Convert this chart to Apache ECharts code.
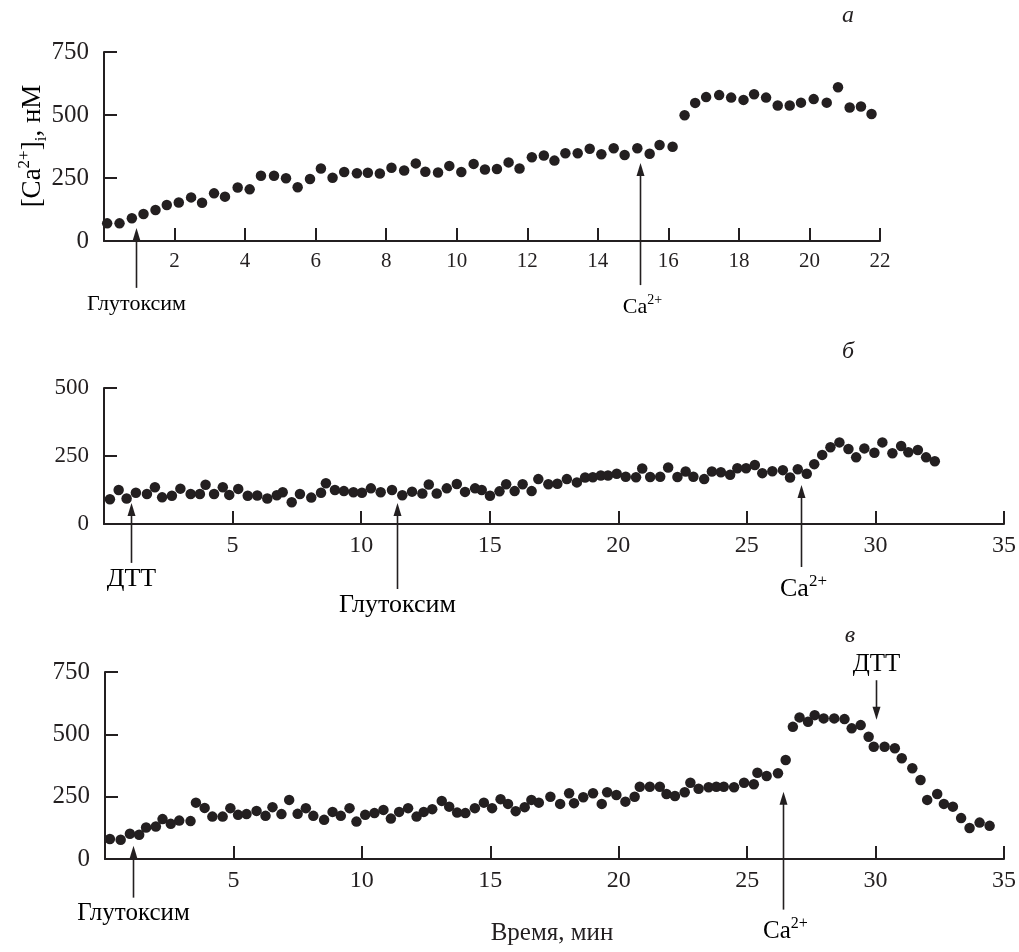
<!DOCTYPE html>
<html>
<head>
<meta charset="utf-8">
<script src="https://cdn.jsdelivr.net/npm/echarts@6/dist/echarts.min.js"></script>
<style>
  html, body { margin: 0; padding: 0; background: #fff; }
  #chart { width: 1019px; height: 952px; }
</style>
</head>
<body>
<div id="chart"></div>
<script>
// panel a: glutoxim, then Ca2+
const timeA = [0.09, 0.44, 0.79, 1.12, 1.46, 1.78, 2.12, 2.47, 2.78, 3.12, 3.43, 3.79, 4.13, 4.45, 4.82, 5.16, 5.49, 5.84, 6.15, 6.48, 6.81, 7.17, 7.48, 7.82, 8.15, 8.51, 8.84, 9.11, 9.47, 9.79, 10.13, 10.48, 10.80, 11.14, 11.47, 11.78, 12.13, 12.47, 12.77, 13.08, 13.43, 13.77, 14.10, 14.45, 14.76, 15.12, 15.47, 15.75, 16.12, 16.46, 16.76, 17.07, 17.44, 17.78, 18.13, 18.43, 18.77, 19.10, 19.44, 19.76, 20.12, 20.49, 20.81, 21.14, 21.46, 21.76];
const concA = [70, 70, 90, 107, 123, 143, 153, 173, 152, 189, 176, 212, 205, 259, 259, 249, 213, 246, 288, 251, 274, 269, 271, 268, 291, 280, 308, 275, 272, 298, 274, 306, 284, 286, 312, 288, 332, 339, 319, 348, 348, 366, 344, 368, 341, 368, 346, 381, 374, 499, 548, 571, 579, 569, 560, 582, 569, 538, 538, 549, 563, 549, 610, 530, 534, 504];

// panel b: DTT, glutoxim, Ca2+
const timeB = [0.23, 0.57, 0.88, 1.24, 1.67, 1.98, 2.26, 2.64, 2.97, 3.37, 3.73, 3.95, 4.28, 4.62, 4.87, 5.22, 5.59, 5.96, 6.35, 6.72, 6.95, 7.30, 7.62, 8.06, 8.44, 8.63, 8.98, 9.33, 9.70, 10.03, 10.38, 10.76, 11.20, 11.60, 11.98, 12.38, 12.63, 12.94, 13.33, 13.72, 14.04, 14.43, 14.69, 15.01, 15.38, 15.64, 15.97, 16.28, 16.63, 16.89, 17.28, 17.63, 18.00, 18.39, 18.71, 19.01, 19.32, 19.60, 19.94, 20.29, 20.69, 20.93, 21.24, 21.63, 21.94, 22.30, 22.62, 22.92, 23.34, 23.64, 23.99, 24.35, 24.63, 24.97, 25.31, 25.60, 25.99, 26.40, 26.68, 26.98, 27.33, 27.62, 27.93, 28.25, 28.60, 28.95, 29.25, 29.57, 29.96, 30.27, 30.66, 31.00, 31.28, 31.65, 31.97, 32.31];
const concB = [91, 125, 94, 115, 110, 135, 98, 104, 130, 110, 110, 144, 110, 135, 107, 129, 104, 105, 94, 106, 117, 80, 110, 97, 115, 150, 125, 121, 117, 115, 131, 117, 125, 106, 119, 112, 145, 112, 131, 147, 118, 131, 125, 104, 120, 146, 121, 146, 121, 165, 146, 148, 165, 153, 171, 172, 178, 178, 185, 174, 172, 204, 173, 174, 208, 173, 193, 174, 165, 193, 190, 181, 205, 205, 217, 187, 194, 198, 171, 201, 185, 220, 254, 282, 300, 276, 245, 278, 262, 300, 260, 287, 264, 272, 245, 231];

// panel c: glutoxim, Ca2+, DTT
const timeC = [0.19, 0.61, 0.97, 1.33, 1.60, 1.98, 2.24, 2.56, 2.89, 3.33, 3.54, 3.88, 4.18, 4.58, 4.88, 5.18, 5.51, 5.90, 6.25, 6.52, 6.87, 7.17, 7.50, 7.82, 8.11, 8.53, 8.86, 9.18, 9.52, 9.79, 10.13, 10.49, 10.84, 11.13, 11.45, 11.80, 12.13, 12.41, 12.74, 13.11, 13.40, 13.71, 14.03, 14.40, 14.75, 15.07, 15.40, 15.69, 15.99, 16.34, 16.60, 16.89, 17.34, 17.72, 18.07, 18.26, 18.62, 19.00, 19.34, 19.55, 19.91, 20.26, 20.62, 20.82, 21.21, 21.60, 21.86, 22.19, 22.57, 22.79, 23.11, 23.50, 23.80, 24.09, 24.49, 24.88, 25.26, 25.40, 25.76, 26.20, 26.50, 26.78, 27.04, 27.37, 27.63, 27.98, 28.39, 28.79, 29.07, 29.42, 29.73, 29.93, 30.35, 30.75, 31.02, 31.43, 31.75, 32.01, 32.40, 32.66, 33.01, 33.33, 33.66, 34.05, 34.44];
const concC = [80, 77, 101, 97, 126, 130, 160, 141, 154, 152, 226, 205, 170, 170, 204, 177, 180, 193, 173, 208, 180, 237, 181, 204, 173, 157, 189, 173, 204, 150, 177, 184, 197, 162, 189, 204, 170, 189, 200, 233, 210, 186, 184, 204, 226, 204, 240, 221, 192, 208, 237, 226, 250, 221, 264, 224, 248, 264, 221, 268, 257, 230, 250, 290, 290, 290, 261, 253, 268, 306, 282, 288, 290, 290, 288, 306, 300, 346, 333, 344, 397, 530, 568, 550, 577, 564, 564, 561, 524, 537, 490, 450, 450, 444, 404, 364, 317, 237, 261, 221, 210, 164, 124, 146, 133];

// arrows: time, tip value, tail value (nM), label
const arrowsA = [
  { t: 0.9, tip: 52, tail: -186, label: 'Глутоксим' },
  { t: 15.2, tip: 310, tail: -175, label: 'Ca' }
];
const arrowsB = [
  { t: 1.04, tip: 77, tail: -143, label: 'ДТТ' },
  { t: 11.38, tip: 77, tail: -239, label: 'Глутоксим' },
  { t: 27.1, tip: 143, tail: -158, label: 'Ca' }
];
const arrowsC = [
  { t: 1.1, tip: 53, tail: -155, label: 'Глутоксим' },
  { t: 26.4, tip: 270, tail: -203, label: 'Ca' },
  { t: 30.0, tip: 558, tail: 717, label: 'ДТТ' }
];

const ink = '#231f20';
const serif = '"Liberation Serif", "DejaVu Serif", serif';

const chart = echarts.init(document.getElementById('chart'));

function xAx(grid, max, step, size) {
  return {
    type: 'value', gridIndex: grid, min: 0, max: max, interval: step,
    axisLine: { lineStyle: { color: ink, width: 2 } },
    axisTick: { inside: true, length: 13, lineStyle: { color: ink, width: 2 } },
    axisLabel: { showMinLabel: false, color: ink, fontFamily: serif, fontSize: size, margin: 10 },
    splitLine: { show: false }
  };
}
function yAx(grid, max, size) {
  return {
    type: 'value', gridIndex: grid, min: 0, max: max, interval: 250,
    axisLine: { show: true, lineStyle: { color: ink, width: 2 } },
    axisTick: { show: true, inside: true, length: 13, lineStyle: { color: ink, width: 2 } },
    axisLabel: { color: ink, fontFamily: serif, fontSize: size, margin: 15 },
    splitLine: { show: false }
  };
}
function dots(i, xs, ys) {
  return {
    type: 'scatter', xAxisIndex: i, yAxisIndex: i,
    symbol: 'circle', symbolSize: 10.5,
    itemStyle: { color: ink, opacity: 1 },
    data: xs.map((x, k) => [x, ys[k]]),
    silent: true, animation: false
  };
}

chart.setOption({
  animation: false,
  grid: [
    { left: 104, top: 52, width: 776, height: 189 },
    { left: 104, top: 388, width: 900, height: 136 },
    { left: 105, top: 672, width: 899, height: 187 }
  ],
  xAxis: [xAx(0, 22, 2, 21), xAx(1, 35, 5, 24), xAx(2, 35, 5, 24)],
  yAxis: [yAx(0, 750, 25), yAx(1, 500, 23), yAx(2, 750, 25)],
  series: [dots(0, timeA, concA), dots(1, timeB, concB), dots(2, timeC, concC)]
});

const richText = (size) => ({
  n: { fontFamily: serif, fontSize: size, color: ink, lineHeight: size + 6 },
  s: { fontFamily: serif, fontSize: Math.round(size * 0.65), color: ink, verticalAlign: 'top' }
});

function arrowEls(grid, list, size) {
  const els = [];
  list.forEach(a => {
    const p1 = chart.convertToPixel({ gridIndex: grid }, [a.t, a.tip]);
    const p2 = chart.convertToPixel({ gridIndex: grid }, [a.t, a.tail]);
    const x = Math.round(p1[0]) + 0.5;
    const dir = p2[1] > p1[1] ? 1 : -1; // 1: arrow points up
    const headLen = 13;
    els.push({
      type: 'line', z: 20, silent: true,
      shape: { x1: x, y1: p2[1], x2: x, y2: p1[1] + dir * (headLen - 2) },
      style: { stroke: ink, lineWidth: 1.6 }
    });
    els.push({
      type: 'polygon', z: 21, silent: true,
      shape: { points: [[x, p1[1]], [x - 4, p1[1] + dir * headLen], [x + 4, p1[1] + dir * headLen]] },
      style: { fill: ink }
    });
    const isCa = a.label === 'Ca';
    els.push({
      type: 'text', z: 22, silent: true,
      x: x + (isCa ? 2 : 0),
      y: p2[1] + dir * (isCa ? 22 : 16),
      style: {
        text: isCa ? '{n|Ca}{s|2+}' : '{n|' + a.label + '}',
        rich: richText(size),
        align: 'center', verticalAlign: 'middle'
      }
    });
  });
  return els;
}

const letter = (txt, x, y) => ({
  type: 'text', x: x, y: y, silent: true,
  style: { text: txt, font: 'italic 24px ' + serif, fill: ink, align: 'center', verticalAlign: 'middle' }
});

chart.setOption({
  graphic: [
    ...arrowEls(0, arrowsA, 22),
    ...arrowEls(1, arrowsB, 26),
    ...arrowEls(2, arrowsC, 25),
    letter('а', 848, 16),
    letter('б', 848, 352),
    letter('в', 850, 636),
    {
      type: 'text', x: 33, y: 146, rotation: Math.PI / 2, silent: true,
      style: {
        text: '{n|[Ca}{s|2+}{n|]}{b|i}{n|, нМ}',
        rich: {
          n: { fontFamily: serif, fontSize: 27, color: ink, lineHeight: 34 },
          s: { fontFamily: serif, fontSize: 17, color: ink, verticalAlign: 'top' },
          b: { fontFamily: serif, fontSize: 17, color: ink, verticalAlign: 'bottom' }
        },
        align: 'center', verticalAlign: 'middle'
      }
    },
    {
      type: 'text', x: 552, y: 933, silent: true,
      style: { text: 'Время, мин', font: '25px ' + serif, fill: ink, align: 'center', verticalAlign: 'middle' }
    }
  ]
});
</script>
</body>
</html>
